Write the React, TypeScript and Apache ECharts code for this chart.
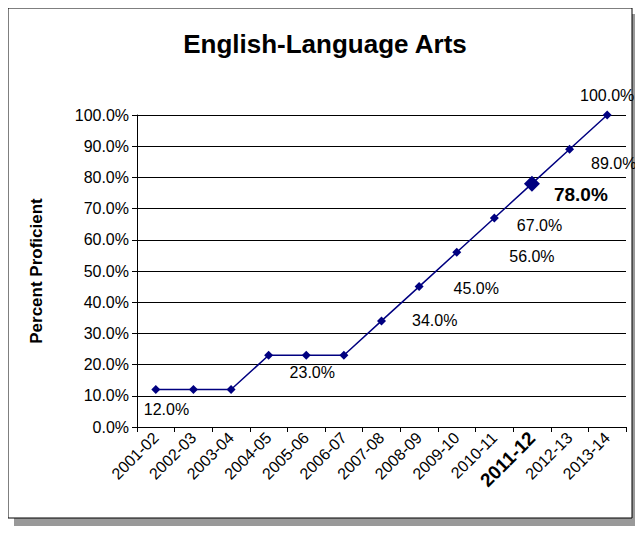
import React, { useEffect, useRef } from "react";
import * as echarts from "echarts";

const years = ["2001-02", "2002-03", "2003-04", "2004-05", "2005-06", "2006-07", "2007-08", "2008-09", "2009-10", "2010-11", "2011-12", "2012-13", "2013-14"];
const values = [12, 12, 12, 23, 23, 23, 34, 45, 56, 67, 78, 89, 100];
const labelAt = [false, true, false, false, true, false, true, true, true, true, true, true, true];
const labelOffsets = [[0, 0], [-27, 2], [0, 0], [0, 0], [6, 0], [0, 0], [21, 0], [25, 2], [43, 4], [13, 8], [9, 11], [12, 14], [0, -2]];

const App = () => {
  const ref = useRef<HTMLDivElement>(null);

  useEffect(() => {
    if (!ref.current) return;
    const chart = echarts.init(ref.current, undefined, { renderer: "svg" });
    const data = values.map((v, i) => {
      const hl = years[i] === "2011-12";
      const last = i === values.length - 1;
      const flat = i < 6;
      return {
        value: v,
        symbolSize: hl ? 16 : 9,
        label: {
          show: labelAt[i],
          position: last ? "top" : flat ? "bottom" : "right",
          offset: labelOffsets[i],
          fontSize: hl ? 19 : 16,
          fontWeight: hl ? "bold" : "normal",
        },
      };
    });
    chart.setOption({
      animation: false,
      backgroundColor: "#fff",
      title: {
        text: "English-Language Arts",
        left: 320,
        top: 26,
        textAlign: "center",
        textStyle: { fontFamily: "Liberation Sans", fontSize: 26, fontWeight: "bold", color: "#000" },
      },
      graphic: [
        { type: "rect", shape: { x: 14, y: 14, width: 626, height: 512 }, style: { fill: "#999" }, z: -10 },
        { type: "rect", shape: { x: 8, y: 8, width: 624, height: 510 }, style: { fill: "#fff", stroke: "#000", lineWidth: 1 }, z: -9 },
      ],
      grid: { left: 137, right: 17, top: 115, bottom: 117 },
      xAxis: {
        type: "category",
        data: years,
        boundaryGap: true,
        axisLine: { lineStyle: { color: "#000" } },
        axisTick: { show: true, alignWithLabel: false, lineStyle: { color: "#000" } },
        axisLabel: {
          rotate: 45,
          interval: 0,
          color: "#000",
          fontFamily: "Liberation Sans",
          fontSize: 16,
          formatter: (v: string) => (v === "2011-12" ? "{b|" + v + "}" : v),
          rich: { b: { fontWeight: "bold", fontSize: 19, fontFamily: "Liberation Sans" } },
        },
      },
      yAxis: {
        type: "value",
        min: 0,
        max: 100,
        interval: 10,
        name: "Percent Proficient",
        nameLocation: "middle",
        nameGap: 92,
        nameTextStyle: { fontFamily: "Liberation Sans", fontSize: 17, fontWeight: "bold", color: "#000" },
        axisLine: { show: true, lineStyle: { color: "#000" } },
        axisTick: { show: true, lineStyle: { color: "#000" } },
        axisLabel: { color: "#000", fontFamily: "Liberation Sans", fontSize: 16, formatter: (v: number) => v.toFixed(1) + "%" },
        splitLine: { lineStyle: { color: "#000" } },
      },
      series: [
        {
          type: "line",
          data,
          symbol: "diamond",
          lineStyle: { color: "#000080", width: 1.5 },
          itemStyle: { color: "#000080" },
          label: {
            color: "#000",
            fontFamily: "Liberation Sans",
            formatter: (p: any) => p.value.toFixed(1) + "%",
          },
        },
      ],
    });
    return () => chart.dispose();
  }, []);

  return <div ref={ref} style={{ width: 643, height: 544, margin: -8 }} />;
};

export default App;
